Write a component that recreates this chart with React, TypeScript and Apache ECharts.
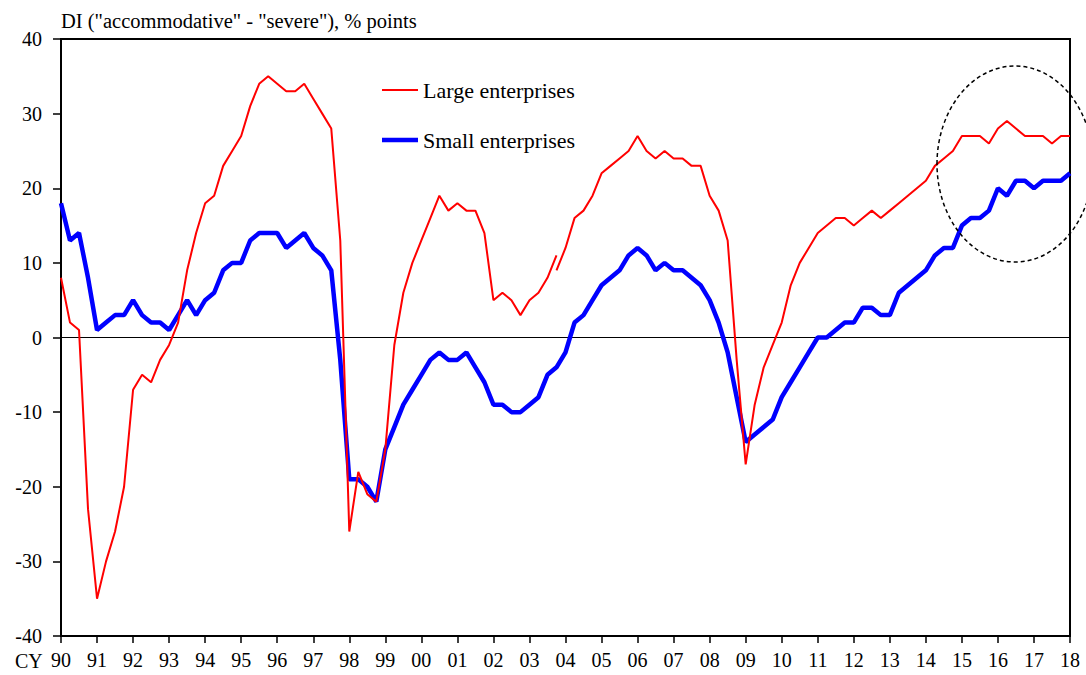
import React, { useEffect, useRef } from "react";
import * as echarts from "echarts";

// Quarterly categories 1990Q1 .. 2018Q1
const startYear = 1990;
const endYear = 2018;
const quarters: string[] = [];
for (let y = startYear; y <= endYear; y++) {
  for (let q = 1; q <= 4; q++) {
    if (y === endYear && q > 1) break;
    quarters.push(`${y}Q${q}`);
  }
}

// Large enterprises, old basis (1990Q1 .. 2003Q4)
const largeOld = [
  8, 2, 1, -23, -35, -30, -26, -20, -7, -5, -6, -3, -1, 2, 9, 14,
  18, 19, 23, 25, 27, 31, 34, 35, 34, 33, 33, 34, 32, 30, 28, 13,
  -26, -18, -21, -22, -15, -1, 6, 10, 13, 16, 19, 17, 18, 17, 17, 14,
  5, 6, 5, 3, 5, 6, 8, 11,
];

// Large enterprises, new basis (2003Q4 .. 2018Q1)
const largeNew = [
  9, 12, 16, 17, 19, 22, 23, 24, 25, 27, 25, 24, 25, 24, 24, 23,
  23, 19, 17, 13, -3, -17, -9, -4, -1, 2, 7, 10, 12, 14, 15, 16,
  16, 15, 16, 17, 16, 17, 18, 19, 20, 21, 23, 24, 25, 27, 27, 27,
  26, 28, 29, 28, 27, 27, 27, 26, 27, 27,
];
const largeNewStart = 55; // index of 2003Q4

// Small enterprises (1990Q1 .. 2018Q1)
const small = [
  18, 13, 14, 8, 1, 2, 3, 3, 5, 3, 2, 2, 1, 3, 5, 3,
  5, 6, 9, 10, 10, 13, 14, 14, 14, 12, 13, 14, 12, 11, 9, -3,
  -19, -19, -20, -22, -15, -12, -9, -7, -5, -3, -2, -3, -3, -2, -4, -6,
  -9, -9, -10, -10, -9, -8, -5, -4, -2, 2, 3, 5, 7, 8, 9, 11,
  12, 11, 9, 10, 9, 9, 8, 7, 5, 2, -2, -8, -14, -13, -12, -11,
  -8, -6, -4, -2, 0, 0, 1, 2, 2, 4, 4, 3, 3, 6, 7, 8,
  9, 11, 12, 12, 15, 16, 16, 17, 20, 19, 21, 21, 20, 21, 21, 21,
  22,
];

const yTicks = { min: -40, max: 40, interval: 10 };
const titleText = 'DI ("accommodative" - "severe"), % points';
const seriesNames = ["Large enterprises", "Small enterprises"];

const FONT = "Liberation Serif, Times New Roman, serif";
const RED = "#FF0000";
const BLUE = "#0000FF";

export default function App() {
  const ref = useRef<HTMLDivElement>(null);

  useEffect(() => {
    if (!ref.current) return;
    const chart = echarts.init(ref.current, null, { renderer: "svg" });

    const oldData = quarters.map((_, i) => (i < largeOld.length ? largeOld[i] : "-"));
    const newData = quarters.map((_, i) =>
      i >= largeNewStart && i - largeNewStart < largeNew.length ? largeNew[i - largeNewStart] : "-"
    );

    const option: any = {
      animation: false,
      backgroundColor: "#fff",
      textStyle: { fontFamily: FONT, color: "#000" },
      title: {
        text: titleText,
        left: 61,
        top: 10,
        padding: 0,
        textStyle: { fontFamily: FONT, fontSize: 20.5, fontWeight: "normal", color: "#000" },
      },
      legend: {
        data: [
          { name: seriesNames[0], icon: "path://M0,0H36V2H0Z", itemStyle: { color: RED } },
          { name: seriesNames[1], icon: "path://M0,0H36V4.5H0Z", itemStyle: { color: BLUE } },
        ],
        orient: "vertical",
        left: 382,
        top: 79,
        padding: 0,
        itemWidth: 36,
        itemHeight: 14,
        itemGap: 28,
        symbolKeepAspect: true,
        textStyle: { fontFamily: FONT, fontSize: 22, color: "#000" },
      },
      grid: {
        left: 61,
        right: 16,
        top: 39,
        bottom: 39,
        show: true,
        borderColor: "#000",
        borderWidth: 2,
        backgroundColor: "transparent",
      },
      xAxis: {
        type: "category",
        data: quarters,
        boundaryGap: false,
        axisLine: { show: true, onZero: false, lineStyle: { color: "#000", width: 2 } },
        axisTick: {
          show: true,
          inside: false,
          length: 7,
          interval: (idx: number) => idx % 4 === 0,
          lineStyle: { color: "#000", width: 1.5 },
        },
        axisLabel: {
          interval: (idx: number) => idx % 4 === 0,
          formatter: (v: string) => v.slice(2, 4),
          fontFamily: FONT,
          fontSize: 20,
          color: "#000",
          margin: 14,
        },
        splitLine: { show: false },
      },
      yAxis: {
        type: "value",
        min: yTicks.min,
        max: yTicks.max,
        interval: yTicks.interval,
        axisLine: { show: true, lineStyle: { color: "#000", width: 2 } },
        axisTick: { show: true, inside: false, length: 8, lineStyle: { color: "#000", width: 1.5 } },
        axisLabel: { fontFamily: FONT, fontSize: 20, color: "#000", margin: 19 },
        splitLine: { show: false },
      },
      graphic: [
        {
          type: "text",
          left: 15,
          top: 651,
          style: { text: "CY", font: `20px ${FONT}`, fill: "#000" },
        },
        {
          type: "ellipse",
          shape: { cx: 1015, cy: 164, rx: 78, ry: 98 },
          style: { fill: "none", stroke: "#000", lineWidth: 1.5, lineDash: [4, 3] },
          z: 10,
        },
      ],
      series: [
        {
          name: seriesNames[1],
          type: "line",
          data: small,
          symbol: "none",
          showSymbol: false,
          lineStyle: { color: BLUE, width: 4.5 },
          itemStyle: { color: BLUE },
          z: 3,
          markLine: {
            silent: true,
            symbol: ["none", "none"],
            label: { show: false },
            lineStyle: { color: "#000", width: 1, type: "solid" },
            data: [{ yAxis: 0 }],
            z: 1,
          },
        },
        {
          name: seriesNames[0],
          type: "line",
          data: oldData,
          symbol: "none",
          showSymbol: false,
          connectNulls: false,
          lineStyle: { color: RED, width: 2 },
          itemStyle: { color: RED },
          z: 4,
        },
        {
          name: seriesNames[0],
          type: "line",
          data: newData,
          symbol: "none",
          showSymbol: false,
          connectNulls: false,
          lineStyle: { color: RED, width: 2 },
          itemStyle: { color: RED },
          z: 4,
        },
      ],
    };

    chart.setOption(option);
    return () => chart.dispose();
  }, []);

  return (
    <div
      ref={ref}
      style={{ position: "absolute", left: 0, top: 0, width: 1086, height: 675, background: "#fff" }}
    />
  );
}
